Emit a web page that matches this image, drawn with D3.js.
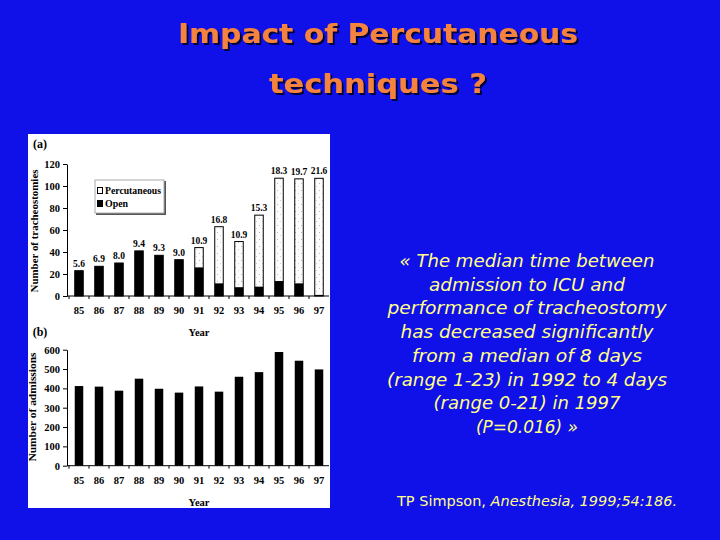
<!DOCTYPE html>
<html>
<head>
<meta charset="utf-8">
<script src="https://cdn.jsdelivr.net/npm/d3@7"></script>
<style>
  html, body { margin: 0; padding: 0; background: #1010e8; }
  svg { display: block; }
</style>
</head>
<body>
<div id="slide"></div>
<script>
// data
var years = ["85", "86", "87", "88", "89", "90", "91", "92", "93", "94", "95", "96", "97"];
var openCounts = [23, 27, 30, 41, 37, 33, 26, 11.5, 8, 8.5, 13.6, 11.5, 1];
var percCounts = [0, 0, 0, 0, 0, 0, 18, 51.5, 41.5, 65, 93.5, 95, 106];
var barLabels = ["5.6", "6.9", "8.0", "9.4", "9.3", "9.0", "10.9", "16.8", "10.9", "15.3", "18.3", "19.7", "21.6"];
var admissions = [412, 409, 388, 450, 398, 378, 410, 383, 460, 484, 588, 543, 498];
var ticksA = [0, 20, 40, 60, 80, 100, 120];
var ticksB = [0, 100, 200, 300, 400, 500, 600];

var titleLines = ["Impact of Percutaneous", "techniques ?"];
var quoteLines = [
  "« The median time between",
  "admission to ICU and",
  "performance of tracheostomy",
  "has decreased significantly",
  "from a  median of 8 days",
  "(range 1-23) in 1992 to 4 days",
  "(range 0-21) in 1997",
  "(P=0.016) »"
];

var W = 720, H = 540;
var serif = "'Liberation Serif', 'Times New Roman', serif";
var comic = "'Comic Sans MS', 'DejaVu Sans', sans-serif";

var svg = d3.select("#slide").append("svg")
    .attr("width", W)
    .attr("height", H);

svg.append("rect")
    .attr("width", W).attr("height", H)
    .attr("fill", "#1010e8");

var defs = svg.append("defs");

// dark shadow under the title
defs.append("filter")
    .attr("id", "shadow")
    .attr("x", "-5%").attr("y", "-20%")
    .attr("width", "110%").attr("height", "150%")
    .append("feDropShadow")
    .attr("dx", 2).attr("dy", 2)
    .attr("stdDeviation", 0.6)
    .attr("flood-color", "#05053a");

// title
var titleWidths = [400, 218];
var titleY = [43, 93];
titleLines.forEach(function (t, i) {
    svg.append("text")
        .attr("x", 378).attr("y", titleY[i])
        .attr("text-anchor", "middle")
        .attr("textLength", titleWidths[i])
        .attr("lengthAdjust", "spacingAndGlyphs")
        .attr("filter", "url(#shadow)")
        .style("font-family", comic)
        .style("font-size", "27px")
        .style("font-weight", "600")
        .attr("fill", "#f5823c")
        .text(t);
});

// quote on the right
var quoteWidths = [255, 196, 279, 253, 230, 280, 187, 102];
quoteLines.forEach(function (t, i) {
    svg.append("text")
        .attr("x", 527).attr("y", 267 + i * 23.7)
        .attr("text-anchor", "middle")
        .attr("textLength", quoteWidths[i])
        .attr("lengthAdjust", "spacingAndGlyphs")
        .style("font-family", comic)
        .style("font-style", "italic")
        .style("font-size", "17px")
        .attr("fill", "#ffff88")
        .text(t);
});

var cite = svg.append("text")
    .attr("x", 397).attr("y", 506)
    .attr("textLength", 280)
    .attr("lengthAdjust", "spacingAndGlyphs")
    .style("font-family", comic)
    .style("font-size", "14px")
    .attr("fill", "#ffff88");
cite.append("tspan").text("TP Simpson, ");
cite.append("tspan").style("font-style", "italic").text("Anesthesia, 1999;54:186.");

// white figure panel
svg.append("rect")
    .attr("x", 28).attr("y", 134)
    .attr("width", 302).attr("height", 374)
    .attr("fill", "#ffffff");

// stipple for the percutaneous bars
var pat = defs.append("pattern")
    .attr("id", "stipple")
    .attr("patternUnits", "userSpaceOnUse")
    .attr("width", 6).attr("height", 7);
pat.append("rect").attr("width", 6).attr("height", 7).attr("fill", "#ffffff");
pat.append("rect").attr("x", 1).attr("y", 1).attr("width", 1).attr("height", 1).attr("fill", "#b8b8b8");
pat.append("rect").attr("x", 4).attr("y", 4).attr("width", 1).attr("height", 1).attr("fill", "#cfcfcf");

var x = d3.scaleBand()
    .domain(years)
    .range([69, 329])
    .paddingInner(0.575)
    .paddingOuter(0.2875);

var yA = d3.scaleLinear().domain([0, 120]).range([296, 164]);
var yB = d3.scaleLinear().domain([0, 600]).range([465.7, 349.7]);

function styleAxis(g) {
    g.selectAll("path").attr("stroke", "#000");
    g.selectAll("line").attr("stroke", "#000");
    g.selectAll("text")
        .attr("fill", "#000")
        .style("font-family", serif)
        .style("font-weight", "bold")
        .style("font-size", "10.5px");
}

function xAxis(y0) {
    // baseline and small ticks between the bars
    svg.append("line")
        .attr("x1", 67).attr("x2", 329)
        .attr("y1", y0).attr("y2", y0)
        .attr("stroke", "#000");
    var bounds = years.map(function (d) { return x(d) - (x.step() - x.bandwidth()) / 2; });
    svg.selectAll(null).data(bounds).enter().append("line")
        .attr("x1", function (d) { return d; })
        .attr("x2", function (d) { return d; })
        .attr("y1", y0).attr("y2", y0 + 3)
        .attr("stroke", "#000");
    svg.append("g")
        .attr("transform", "translate(0," + y0 + ")")
        .call(d3.axisBottom(x).tickSize(0).tickPadding(11))
        .call(styleAxis)
        .call(function (g) { g.select(".domain").remove(); });
}

function yTitle(cx, cy, len, t) {
    svg.append("text")
        .attr("transform", "translate(" + cx + "," + cy + ") rotate(-90)")
        .attr("text-anchor", "middle")
        .attr("textLength", len)
        .attr("lengthAdjust", "spacingAndGlyphs")
        .style("font-family", serif)
        .style("font-weight", "bold")
        .style("font-size", "11px")
        .attr("fill", "#000")
        .text(t);
}

function panelText(px, py, t, size) {
    svg.append("text")
        .attr("x", px).attr("y", py)
        .attr("text-anchor", "middle")
        .style("font-family", serif)
        .style("font-weight", "bold")
        .style("font-size", size)
        .attr("fill", "#000")
        .text(t);
}

// ---- (a) tracheostomies ----
panelText(40, 148, "(a)", "12px");

svg.append("g")
    .attr("transform", "translate(67,0)")
    .call(d3.axisLeft(yA).tickValues(ticksA).tickSize(4).tickPadding(3).tickSizeOuter(0))
    .call(styleAxis);

var barsA = years.map(function (d, i) {
    return { year: d, open: openCounts[i], perc: percCounts[i], label: barLabels[i] };
});

svg.selectAll(".tot").data(barsA).enter().append("rect")
    .attr("class", "tot")
    .attr("x", function (d) { return x(d.year); })
    .attr("width", x.bandwidth())
    .attr("y", function (d) { return yA(d.open + d.perc); })
    .attr("height", function (d) { return yA(0) - yA(d.open + d.perc); })
    .attr("fill", "url(#stipple)")
    .attr("stroke", "#000")
    .attr("stroke-width", 1);

svg.selectAll(".open").data(barsA).enter().append("rect")
    .attr("class", "open")
    .attr("x", function (d) { return x(d.year); })
    .attr("width", x.bandwidth())
    .attr("y", function (d) { return yA(d.open); })
    .attr("height", function (d) { return yA(0) - yA(d.open); })
    .attr("fill", "#000");

svg.selectAll(".lbl").data(barsA).enter().append("text")
    .attr("class", "lbl")
    .attr("x", function (d) { return x(d.year) + x.bandwidth() / 2; })
    .attr("y", function (d) { return yA(d.open + d.perc) - 4; })
    .attr("text-anchor", "middle")
    .style("font-family", serif)
    .style("font-weight", "bold")
    .style("font-size", "9.5px")
    .attr("fill", "#000")
    .text(function (d) { return d.label; });

xAxis(296);
panelText(199, 336, "Year", "10.5px");
yTitle(38, 231, 123, "Number of tracheostomies");

// legend
var leg = svg.append("g");
leg.append("rect")
    .attr("x", 96).attr("y", 181).attr("width", 70).attr("height", 34)
    .attr("fill", "#555");
leg.append("rect")
    .attr("x", 95).attr("y", 180).attr("width", 69).attr("height", 33)
    .attr("fill", "#fff").attr("stroke", "#aaa");
leg.append("rect")
    .attr("x", 97.5).attr("y", 187.5).attr("width", 5).attr("height", 6)
    .attr("fill", "#fff").attr("stroke", "#000");
leg.append("rect")
    .attr("x", 97).attr("y", 200).attr("width", 6).attr("height", 7)
    .attr("fill", "#000");
[["Percutaneous", 194, 56], ["Open", 207, 23]].forEach(function (r) {
    leg.append("text")
        .attr("x", 105).attr("y", r[1])
        .attr("textLength", r[2])
        .attr("lengthAdjust", "spacingAndGlyphs")
        .style("font-family", serif)
        .style("font-weight", "bold")
        .style("font-size", "10.5px")
        .attr("fill", "#000")
        .text(r[0]);
});

// ---- (b) admissions ----
panelText(40, 336, "(b)", "12px");

svg.append("g")
    .attr("transform", "translate(67,0)")
    .call(d3.axisLeft(yB).tickValues(ticksB).tickSize(4).tickPadding(3).tickSizeOuter(0))
    .call(styleAxis);

svg.selectAll(".adm").data(admissions).enter().append("rect")
    .attr("class", "adm")
    .attr("x", function (d, i) { return x(years[i]); })
    .attr("width", x.bandwidth())
    .attr("y", function (d) { return yB(d); })
    .attr("height", function (d) { return yB(0) - yB(d); })
    .attr("fill", "#000");

xAxis(465.7);
panelText(199, 506, "Year", "10.5px");
yTitle(36, 407, 109, "Number of admissions");
</script>
</body>
</html>
